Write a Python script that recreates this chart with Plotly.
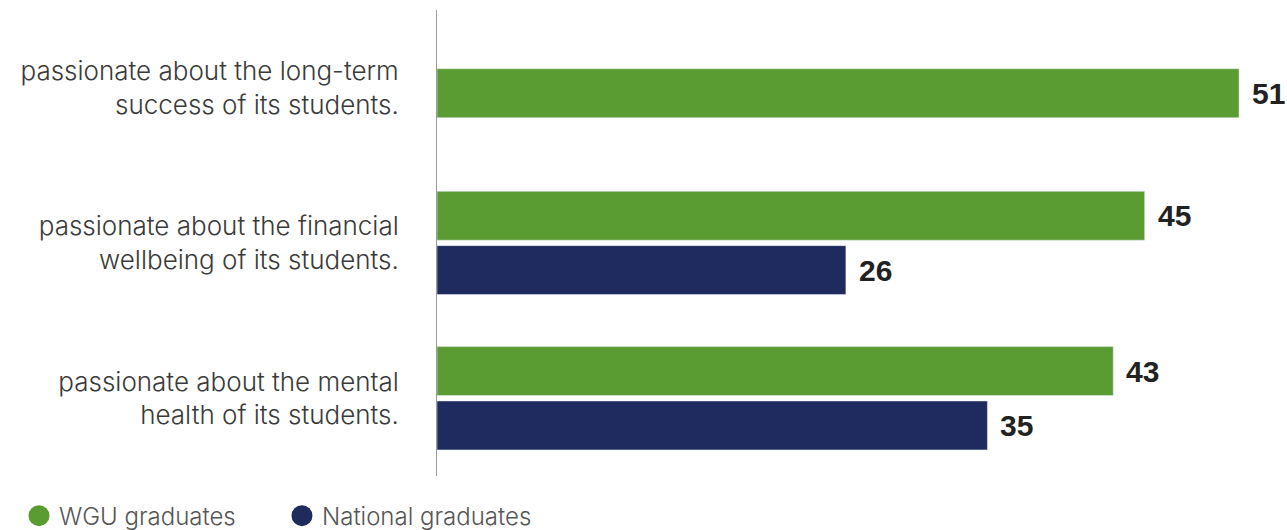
import plotly.graph_objects as go

categories = [
    "passionate about the long-term<br>success of its students.",
    "passionate about the financial<br>wellbeing of its students.",
    "passionate about the mental<br>health of its students.",
]
wgu_values = [51, 45, 43]
national_values = [None, 26, 35]
series_names = ["WGU graduates", "National graduates"]

GREEN = "#5a9c32"
NAVY = "#1f2a5f"
bar_w = 0.315
wgu_offsets = [-0.122, -0.333, -0.333]
nat_offsets = [0.017, 0.017, 0.017]

FIG_W, FIG_H = 1287, 530
M_L, M_R, M_T, M_B = 437, 0, 10, 54
px_per_cat = (FIG_H - M_T - M_B) / 3.0

fig = go.Figure()
fig.add_trace(go.Bar(
    y=categories, x=wgu_values, orientation="h", marker_color=GREEN,
    width=bar_w, offset=wgu_offsets, showlegend=False, name=series_names[0],
))
fig.add_trace(go.Bar(
    y=categories, x=national_values, orientation="h", marker_color=NAVY,
    width=bar_w, offset=nat_offsets, showlegend=False, name=series_names[1],
))
# legend entries with circle markers
for nm, col in zip(series_names, [GREEN, NAVY]):
    fig.add_trace(go.Scatter(
        x=[None], y=[None], mode="markers", name=nm,
        marker=dict(color=col, size=22, symbol="circle",
                    line=dict(color=col, width=5)),
    ))

label_font = dict(family="Liberation Sans, Arial", size=30, color="#222222")
for cat, v, off in zip(categories, wgu_values, wgu_offsets):
    fig.add_annotation(x=v, y=cat, text=f"<b>{v}</b>", showarrow=False,
                       xanchor="left", xshift=11,
                       yshift=-(off + bar_w / 2) * px_per_cat,
                       font=label_font)
for cat, v, off in zip(categories, national_values, nat_offsets):
    if v is None:
        continue
    fig.add_annotation(x=v, y=cat, text=f"<b>{v}</b>", showarrow=False,
                       xanchor="left", xshift=11,
                       yshift=-(off + bar_w / 2) * px_per_cat,
                       font=label_font)

fig.update_layout(
    width=FIG_W, height=FIG_H,
    margin=dict(l=M_L, r=M_R, t=M_T, b=M_B, autoexpand=False),
    plot_bgcolor="white", paper_bgcolor="white",
    barmode="overlay",
    font=dict(family="Inter, Roboto, sans-serif", color="#3a3a3a"),
    xaxis=dict(range=[0, 54.05], showgrid=False, zeroline=False,
               showticklabels=False, showline=False, fixedrange=True),
    yaxis=dict(range=[2.5, -0.5], showgrid=False, zeroline=False,
               showline=True, linecolor="#9a9a9a", linewidth=1,
               ticks="", ticklabelstandoff=32, fixedrange=True,
               tickfont=dict(family="Inter, Roboto, sans-serif", size=26,
                             color="#3a3a3a", weight=300)),
    legend=dict(orientation="h", x=-0.4918, xanchor="left", y=-0.086, yanchor="middle",
                font=dict(family="Inter, Roboto, sans-serif", size=24,
                          color="#555555", weight=300),
                itemsizing="trace", entrywidth=218, traceorder="normal"),
)

fig.write_html("out.html", config={"displayModeBar": False},
               post_script="document.body.style.margin='0';")
